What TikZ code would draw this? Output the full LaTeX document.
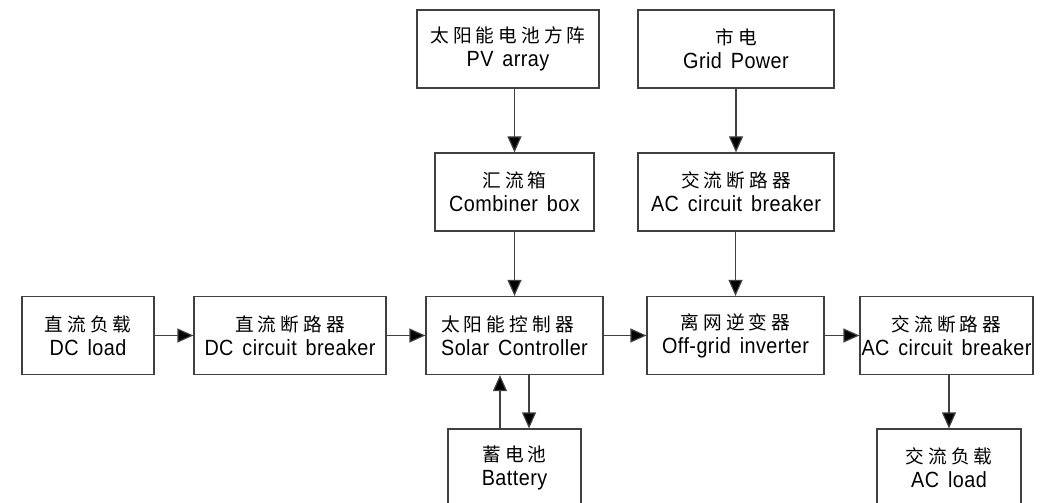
\documentclass[tikz,border=0pt]{standalone}
\usepackage{fontspec}
\setmainfont{Liberation Sans}[FakeStretch=0.9,LetterSpace=2,WordSpace=1.5]
\newfontfamily\cjk{Noto Sans CJK SC}[LetterSpace=22]
\newcommand\zh{\cjk\fontsize{14}{18}\selectfont}
\usetikzlibrary{arrows.meta}

\begin{document}
\begin{tikzpicture}[x=0.75pt,y=-0.75pt,
	box/.style={draw=black!75,line width=0.9pt,minimum height=58.5pt,inner sep=0pt,align=center,font=\fontsize{16.5}{18}\selectfont},
	arr/.style={draw=black!75,line width=0.9pt,-{Triangle[length=12pt,width=10.5pt,fill=black]}}]
	\path[use as bounding box,clip] (0,0) rectangle (1043,503);
	% top row
	\node[box,minimum width=136.5pt] (pv) at (508,49) {{\zh 太阳能电池方阵}\\PV array};
	\node[box,minimum width=147pt] (grid) at (736,49) {{\zh 市电}\\Grid Power};
	\node[box,minimum width=119.25pt] (comb) at (514.5,192) {{\zh 汇流箱}\\Combiner box};
	\node[box,minimum width=147pt] (acbrkA) at (736,192) {{\zh 交流断路器}\\AC circuit breaker};
	% middle row
	\node[box,minimum width=99pt] (dcload) at (88,335.5) {{\zh 直流负载}\\DC load};
	\node[box,minimum width=144pt] (dcbrk) at (290,335.5) {{\zh 直流断路器}\\DC circuit breaker};
	\node[box,minimum width=132.75pt,align=left] (ctrl) at (514.5,335.5) {{\zh 太阳能控制器}\\Solar Controller};
	\node[box,minimum width=132.75pt] (inv) at (735.5,335.5) {{\zh 离网逆变器}\\Off-grid inverter};
	\node[box,minimum width=129.75pt] (acbrkB) at (946.5,335.5) {{\zh 交流断路器}\\AC circuit breaker};
	% bottom row
	\node[box,minimum width=99.75pt] (bat) at (514.5,468) {{\zh 蓄电池}\\Battery};
	\node[box,minimum width=108pt] (acload) at (949,468) {{\zh 交流负载}\\AC load};
	% arrows
	\draw[arr] (pv.south -| comb) -- (comb);
	\draw[arr] (grid) -- (acbrkA);
	\draw[arr] (comb) -- (ctrl);
	\draw[arr] (acbrkA.south -| inv) -- (inv);
	\draw[arr] (dcload) -- (dcbrk);
	\draw[arr] (dcbrk) -- (ctrl);
	\draw[arr] (ctrl) -- (inv);
	\draw[arr] (inv) -- (acbrkB);
	\draw[arr] (acbrkB.south -| acload) -- (acload);
	\draw[arr] ([xshift=-10.9pt]bat.north) -- ([xshift=-10.9pt]ctrl.south);
	\draw[arr] ([xshift=10.9pt]ctrl.south) -- ([xshift=10.9pt]bat.north);
\end{tikzpicture}
\end{document}
